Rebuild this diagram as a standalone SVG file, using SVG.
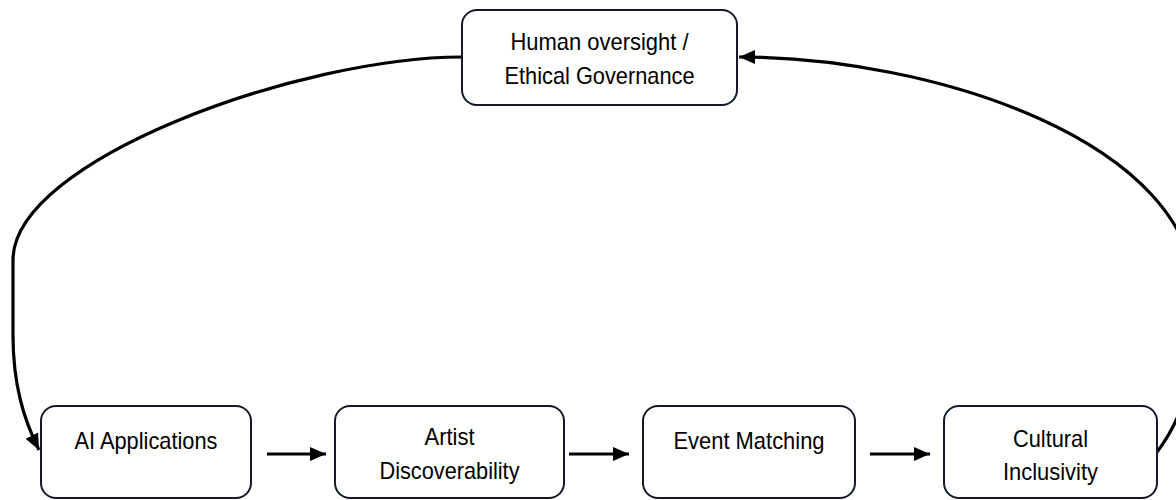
<svg xmlns="http://www.w3.org/2000/svg" width="1176" height="500" viewBox="0 0 1176 500">
<style>
.box{fill:#fff;stroke:#141a2a;stroke-width:2}
.lbl{font-family:"Liberation Sans",Arial,sans-serif;font-size:24px;fill:#000;text-anchor:middle}
.conn{fill:none;stroke:#000;stroke-width:3.2;marker-end:url(#ah)}
</style>
<defs>
<marker id="ah" markerUnits="userSpaceOnUse" markerWidth="17" markerHeight="15" refX="16" refY="7" orient="auto">
<path d="M0,0 L16,7 L0,14 z" fill="#000"/>
</marker>
</defs>
<rect width="1176" height="500" fill="#fff"/>
<g id="connectors">
<path class="conn" d="M462,57 C300,57 13,160 13,260 L13,335 C13,385 24,420 39,450"/>
<path class="conn" d="M1157,452 C1170,435 1196,400 1196,300 C1196,140 930,57 739,57"/>
<path class="conn" d="M267,454 L326,454"/>
<path class="conn" d="M569,454 L629,454"/>
<path class="conn" d="M870,454 L930,454"/>
</g>
<g id="node-oversight">
<rect class="box" x="462" y="10" width="275" height="95" rx="15"/>
<text class="lbl" x="599.5" y="50" textLength="178" lengthAdjust="spacingAndGlyphs">Human oversight /</text>
<text class="lbl" x="599.5" y="84" textLength="190" lengthAdjust="spacingAndGlyphs">Ethical Governance</text>
</g>
<g id="node-ai">
<rect class="box" x="41" y="406" width="210" height="92" rx="15"/>
<text class="lbl" x="146" y="449" textLength="143" lengthAdjust="spacingAndGlyphs">AI Applications</text>
</g>
<g id="node-artist">
<rect class="box" x="335" y="406" width="229" height="92" rx="15"/>
<text class="lbl" x="449.5" y="445" textLength="50" lengthAdjust="spacingAndGlyphs">Artist</text>
<text class="lbl" x="449.5" y="479" textLength="140" lengthAdjust="spacingAndGlyphs">Discoverability</text>
</g>
<g id="node-event">
<rect class="box" x="643" y="406" width="212" height="92" rx="15"/>
<text class="lbl" x="749" y="449" textLength="151" lengthAdjust="spacingAndGlyphs">Event Matching</text>
</g>
<g id="node-cultural">
<rect class="box" x="944" y="406" width="213" height="92" rx="15"/>
<text class="lbl" x="1050.5" y="447" textLength="75" lengthAdjust="spacingAndGlyphs">Cultural</text>
<text class="lbl" x="1050.5" y="480" textLength="95" lengthAdjust="spacingAndGlyphs">Inclusivity</text>
</g>
</svg>
